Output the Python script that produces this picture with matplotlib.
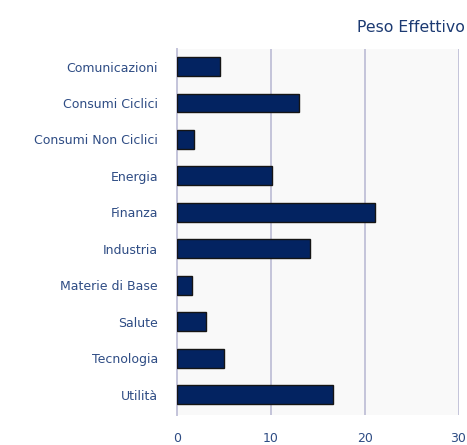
import matplotlib
matplotlib.use("Agg")
import matplotlib.pyplot as plt

categories = ["Comunicazioni", "Consumi Ciclici", "Consumi Non Ciclici", "Energia",
              "Finanza", "Industria", "Materie di Base", "Salute", "Tecnologia", "Utilità"]
values = [4.6, 13.0, 1.8, 10.1, 21.1, 14.2, 1.6, 3.1, 5.0, 16.6]
xticks = [0, 10, 20, 30]
title = "Peso Effettivo"

W, H = 467, 445
fig = plt.figure(figsize=(W / 100, H / 100), dpi=100)
ax = fig.add_axes([176.7 / W, 1 - 415 / H, (458.5 - 176.7) / W, (415 - 49) / H])
ax.set_facecolor("#f9f9f9")

y = list(range(len(categories)))
ax.barh(y, values, height=0.52, color="#032361", edgecolor="#151515", linewidth=1.0, zorder=3)

ax.set_xlim(0, 30)
ax.set_ylim(9.55, -0.48)
ax.set_xticks(xticks)
ax.set_xticklabels([str(t) for t in xticks])
ax.set_yticks(y)
ax.set_yticklabels(categories)
ax.grid(axis="x", color="#c4c4da", linewidth=1.4, zorder=1)
ax.grid(axis="y", visible=False)
for s in ["top", "right", "bottom"]:
    ax.spines[s].set_visible(False)
ax.spines["left"].set_color("#c4c4da")
ax.spines["left"].set_linewidth(1.4)
ax.tick_params(axis="both", length=0, labelsize=9, labelcolor="#2e4c84")
ax.tick_params(axis="y", pad=13.5)
ax.tick_params(axis="x", pad=12)

fig.text(357 / W, 1 - 28 / H, title, fontsize=11.3, color="#1c3a72", ha="left", va="center")

fig.savefig("out.png", dpi=100)
